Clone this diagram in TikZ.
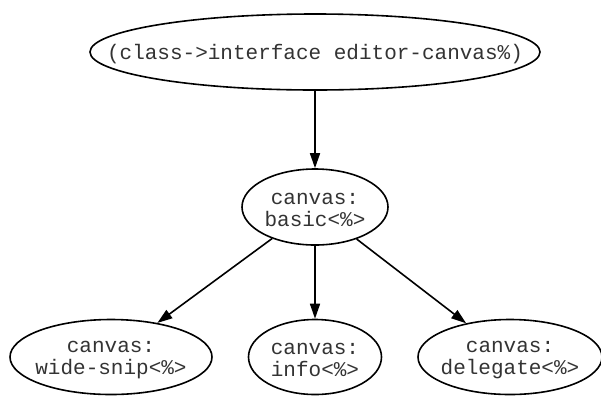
\documentclass[tikz,border=0pt]{standalone}
\usepackage{fontspec}
\setmonofont{Liberation Mono}
\usetikzlibrary{shapes.geometric,arrows.meta}
\begin{document}
\begin{tikzpicture}[x=1pt,y=-1pt,
  nd/.style={draw,ellipse,line width=1.6pt,inner sep=0pt},
  lbl/.style={inner sep=0pt,align=center,yshift=-3pt,
    font=\ttfamily\fontsize{21}{22.5}\selectfont,text=black!80},
  ar/.style={line width=1.6pt,-{Triangle[length=15pt,width=10pt]}}]
\useasboundingbox (0,0) rectangle (601,400);
\node[nd,minimum width=450pt,minimum height=76pt] (top) at (315,52) {};
\node[nd,minimum width=146pt,minimum height=76pt] (mid) at (315,207) {};
\node[nd,minimum width=202pt,minimum height=75pt] (l) at (111,357) {};
\node[nd,minimum width=133pt,minimum height=75pt] (c) at (315,357) {};
\node[nd,minimum width=184pt,minimum height=75pt] (r) at (510,357) {};
\node[lbl,yshift=1pt] (topt) at (top.center) {(class->interface editor-canvas\%)};
\node[lbl] (midt) at (mid.center) {canvas:\\basic<\%>};
\node[lbl] (lt) at (l.center) {canvas:\\wide-snip<\%>};
\node[lbl] (ct) at (c.center) {canvas:\\info<\%>};
\node[lbl] (rt) at (r.center) {canvas:\\delegate<\%>};
\draw[ar] (top) -- (mid);
\draw[ar] (mid) -- (l);
\draw[ar] (mid) -- (c);
\draw[ar] (mid) -- (r);
\end{tikzpicture}
\end{document}
